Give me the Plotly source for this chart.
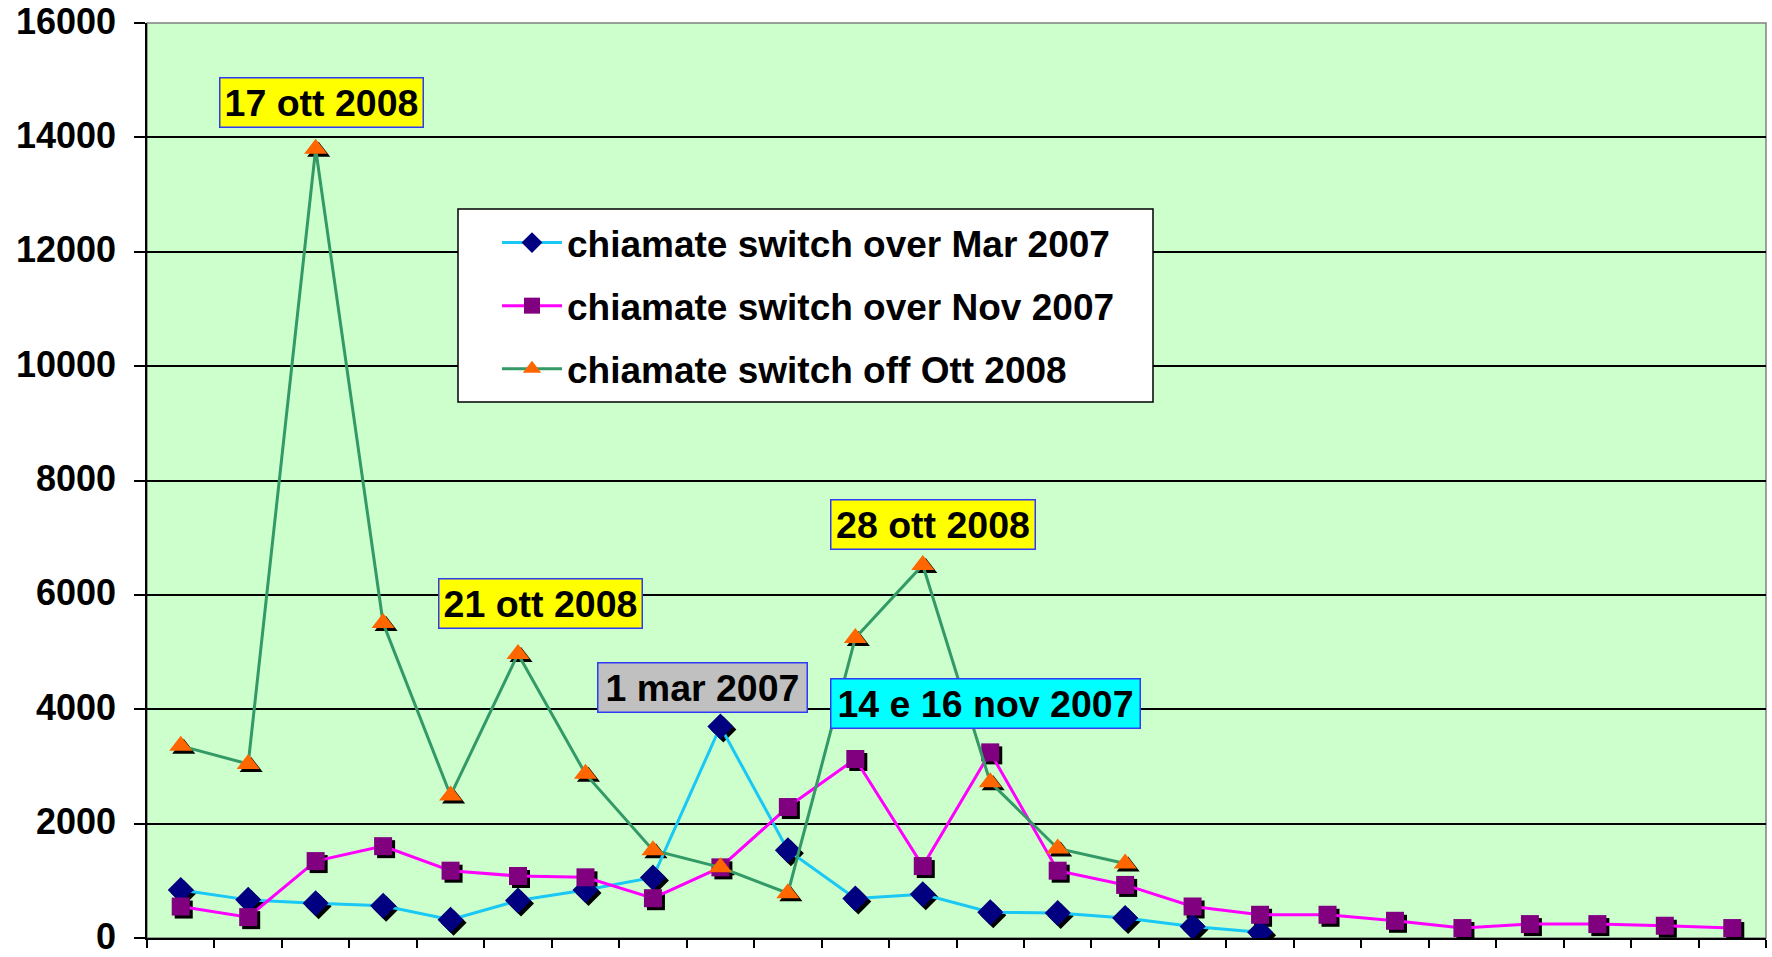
import plotly.graph_objects as go

# ---- data ----
categories = list(range(1, 25))
series_names = [
    "chiamate switch over Mar 2007",
    "chiamate switch over Nov 2007",
    "chiamate switch off Ott 2008",
]
mar_2007 = [840, 667, 609, 562, 319, 655, 840, 1060, 3700, 1536, 690, 765,
            452, 435, 348, 203, 99, None, None, None, None, None, None, None]
nov_2007 = [550, 365, 1345, 1606, 1177, 1084, 1061, 696, 1235, 2290, 3130, 1258,
            3246, 1177, 928, 551, 406, 406, 301, 174, 243, 243, 214, 174]
ott_2008 = [3360, 3043, 13800, 5507, 2493, 4968, 2870, 1536, 1235, 783, 5246, 6522,
            2725, 1565, 1304, None, None, None, None, None, None, None, None, None]
y_ticks = [0, 2000, 4000, 6000, 8000, 10000, 12000, 14000, 16000]
y_tick_labels = ["0", "2000", "4000", "6000", "8000", "10000", "12000", "14000", "16000"]

# callout labels: (text, series index, category index)
callout_texts = ["17 ott 2008", "21 ott 2008", "28 ott 2008", "1 mar 2007", "14 e 16 nov 2007"]
callout_series = [2, 2, 2, 0, 1]
callout_cats = [3, 6, 12, 9, 13]

# ---- styling ----
FONT = "Liberation Sans, Arial, sans-serif"
W, H = 1772, 957
OFF = 0  # page body margin removed via post_script
# target plot area in page pixels: x 147..1766, y 23..938
ML, MR, MT, MB = 147 - OFF, W + OFF - 1766, 23 - OFF, H + OFF - 938
plot_w = W - ML - MR
plot_h = H - MT - MB
x_range = [0.5, 24.5]
y_range = [0, 16000]
shadow_px = 3
dx = shadow_px * (x_range[1] - x_range[0]) / plot_w
dy = shadow_px * (y_range[1] - y_range[0]) / plot_h

all_series = [mar_2007, nov_2007, ott_2008]
line_colors = ["#19C8F5", "#FF00FF", "#339966"]
marker_colors = ["#000080", "#800080", "#FF6600"]
symbols = ["diamond", "square", "triangle-up"]
sizes = [20, 18, 20]

fig = go.Figure()

# shadows (on shifted overlay axes)
for s, sym, sz in zip(all_series, symbols, sizes):
    fig.add_trace(go.Scatter(
        x=categories, y=s, mode="markers", xaxis="x2", yaxis="y2",
        marker=dict(symbol=sym, size=sz, color="#000000", line=dict(width=0)),
        showlegend=False, hoverinfo="skip"))

# main series
for i, (s, name) in enumerate(zip(all_series, series_names)):
    fig.add_trace(go.Scatter(
        x=categories, y=s, name=name, mode="lines+markers", xaxis="x3", yaxis="y3",
        line=dict(color=line_colors[i], width=3),
        marker=dict(symbol=symbols[i], size=sizes[i], color=marker_colors[i], line=dict(width=0)),
        legendgroup=f"g{i}", connectgaps=False))

# callouts anchored to data points
box_bg = ["#FFFF00", "#FFFF00", "#FFFF00", "#C0C0C0", "#00FFFF"]
box_w = [196, 196, 197, 202, 302]
xshifts = [6, 22, 10, -18, -5]
yshifts = [21, 25, 15, 13, 23]
for t, si, ci, bg, bw, xs, ys in zip(callout_texts, callout_series, callout_cats, box_bg, box_w, xshifts, yshifts):
    fig.add_annotation(
        x=categories[ci - 1], y=all_series[si][ci - 1], xref="x", yref="y",
        text=t, showarrow=False, xanchor="center", yanchor="bottom",
        xshift=xs, yshift=ys, width=bw, align="center",
        font=dict(family=FONT, size=37.5, color="#000000", weight="bold"),
        bgcolor=bg, bordercolor="#2E3BF5", borderwidth=1.5, borderpad=3)

# plot-area border (gray)
fig.add_shape(type="rect", xref="x domain", yref="y domain", x0=0, x1=1, y0=0, y1=1,
              line=dict(color="#808080", width=1.5), layer="below")

# legend box (white with black border), page pixels -> paper fractions
def px_to_paper_x(px):
    return (px - OFF - ML) / plot_w

def px_to_paper_y(py):
    return 1 - (py - OFF - MT) / plot_h

LEG_L, LEG_T, LEG_R, LEG_B = 458, 209, 1153, 402
fig.add_shape(type="rect", xref="paper", yref="paper",
              x0=px_to_paper_x(LEG_L), x1=px_to_paper_x(LEG_R),
              y0=px_to_paper_y(LEG_B), y1=px_to_paper_y(LEG_T),
              fillcolor="#FFFFFF", line=dict(color="#000000", width=1.5), layer="above")

axis_common = dict(showgrid=False, zeroline=False, automargin=False)
fig.update_layout(
    width=W, height=H,
    margin=dict(l=ML, r=MR, t=MT, b=MB, autoexpand=False),
    paper_bgcolor="#FFFFFF", plot_bgcolor="#CCFFCC",
    font=dict(family=FONT, size=36, color="#000000", weight="bold"),
    xaxis=dict(range=x_range, tickvals=[c - 0.5 for c in categories] + [categories[-1] + 0.5],
               showticklabels=False, ticks="outside", ticklen=8, tickwidth=1.5,
               tickcolor="#000000", showline=True, linecolor="#000000", linewidth=1.5,
               **axis_common),
    yaxis=dict(range=y_range, tickvals=y_ticks, ticktext=y_tick_labels,
               ticks="outside", ticklen=11, tickwidth=1.5,
               tickcolor="#000000", showline=True, linecolor="#000000", linewidth=1.5,
               showgrid=True, gridcolor="#000000", gridwidth=1.5, zeroline=False,
               automargin=False, ticklabeloverflow="allow", ticklabelshift=-2,
               tickfont=dict(family=FONT, size=36, color="#000000", weight="bold"),
               ticklabelstandoff=11),
    xaxis2=dict(range=[x_range[0] - dx, x_range[1] - dx], overlaying="x", visible=False, **axis_common),
    yaxis2=dict(range=[y_range[0] + dy, y_range[1] + dy], overlaying="y", visible=False, **axis_common),
    xaxis3=dict(range=x_range, overlaying="x", visible=False, **axis_common),
    yaxis3=dict(range=y_range, overlaying="y", visible=False, **axis_common),
    legend=dict(x=px_to_paper_x(497), y=px_to_paper_y(212), xanchor="left", yanchor="top",
                bgcolor="rgba(0,0,0,0)", borderwidth=0,
                font=dict(family=FONT, size=37, color="#000000", weight="bold"),
                tracegroupgap=12, itemwidth=60),
    showlegend=True,
)

fig.write_html("out.html", config={"displayModeBar": False},
               post_script="document.body.style.margin='0';")
